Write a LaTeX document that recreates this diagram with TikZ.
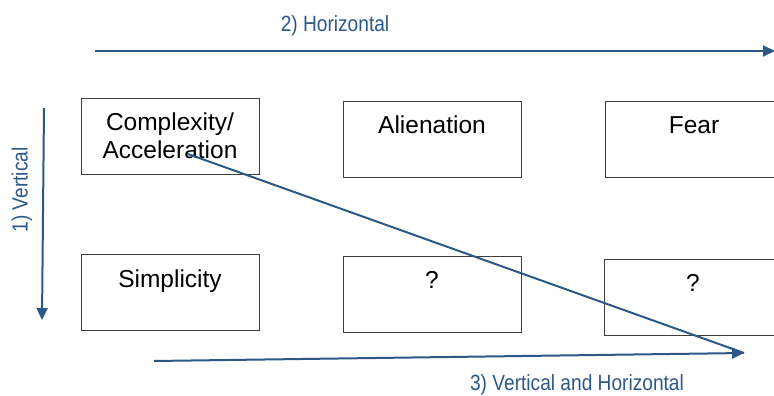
\documentclass[tikz,border=0pt]{standalone}
\usepackage{fontspec}
\setmainfont{Liberation Sans}
\newfontfamily\lblfont[FakeStretch=0.87]{Liberation Sans}
\usetikzlibrary{arrows.meta}
\definecolor{arrowblue}{RGB}{44,88,136}
\definecolor{boxgray}{RGB}{60,60,60}
\tikzset{
  cell/.style={draw=boxgray, line width=1pt, minimum width=178pt, minimum height=76pt, anchor=north west, inner sep=0pt},
  celltext/.style={font=\fontsize{24.5}{28}\selectfont, align=center, anchor=base},
  flow/.style={draw=arrowblue, line width=2pt, -{Triangle[length=12pt,width=11pt]}},
  flowline/.style={draw=arrowblue, line width=2pt},
  lbl/.style={text=arrowblue, inner sep=0pt, font=\lblfont\fontsize{22}{24}\selectfont}
}
\begin{document}
\begin{tikzpicture}[x=1pt,y=-1pt]
\useasboundingbox (0,0) rectangle (774,396);
\clip (0,0) rectangle (774,396);
% boxes
\node[cell] (b1) at (81,98) {};
\node[cell] (b2) at (343,101) {};
\node[cell] (b3) at (605,101) {};
\node[cell] (b4) at (81,254) {};
\node[cell] (b5) at (343,256) {};
\node[cell] (b6) at (604,259) {};
% texts
\node[celltext] (t1) at (170,158) {Complexity/\\Acceleration};
\node[celltext] (t2) at (432,133) {Alienation};
\node[celltext] (t3) at (694,133) {Fear};
\node[celltext] (t4) at (170,287) {Simplicity};
\node[celltext] (t5) at (432,288) {?};
\node[celltext] (t6) at (693,291) {?};
% coordinates for arrows
\coordinate (hs) at (95,51);
\coordinate (he) at (775,51);
\coordinate (vs) at (44,108);
\coordinate (ve) at (42,320);
\coordinate (ds) at (188,154);
\coordinate (de) at (744,353);
\coordinate (bs) at (154,361);
% arrows
\draw[flow] (hs) -- (he);
\draw[flow] (vs) -- (ve);
\draw[flowline] (ds) -- (de);
\draw[flow] (bs) -- (de);
% labels
\node[lbl] (l1) at (335,26) {2) Horizontal};
\node[lbl, rotate=90] (l2) at (22,190) {1) Vertical};
\node[lbl] (l3) at (577,385) {3) Vertical and Horizontal};
\end{tikzpicture}
\end{document}
